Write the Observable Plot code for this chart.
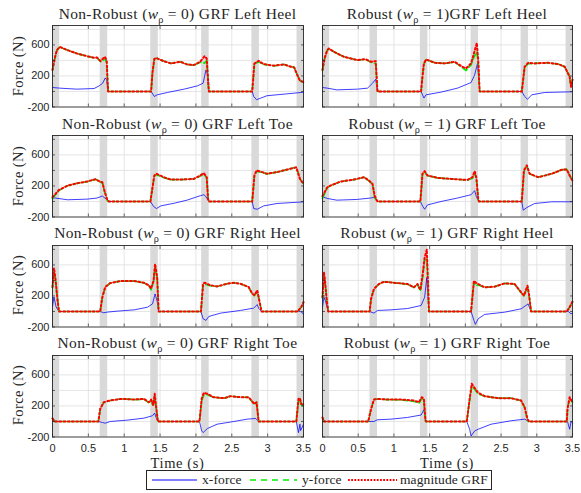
<!DOCTYPE html>
<html>
<head>
<meta charset="utf-8">
<script src="https://cdn.jsdelivr.net/npm/d3@7"></script>
<script src="https://cdn.jsdelivr.net/npm/@observablehq/plot@0.6"></script>
<style>
  body { margin: 0; background: #fff; }
  #chart { position: relative; width: 581px; height: 493px; overflow: hidden; background: #fff;
           font-family: "Liberation Serif", "DejaVu Serif", serif; color: #262626; }
  .title { position: absolute; font-size: 15.5px; letter-spacing: 0.35px; white-space: nowrap; transform: translate(-50%, -50%); line-height: 1; }
  .title sub { font-size: 0.66em; vertical-align: -0.35em; line-height: 0; letter-spacing: 0; }
  .ylab { position: absolute; font-size: 14.5px; letter-spacing: 0.4px; white-space: nowrap; transform: translate(-50%, -50%) rotate(-90deg); line-height: 1; }
  .xlab { position: absolute; font-size: 14.5px; letter-spacing: 0.6px; white-space: nowrap; transform: translate(-50%, -50%); line-height: 1; }
  .panel { position: absolute; }
  #legend { position: absolute; }
</style>
</head>
<body>
<div id="chart"></div>
<script>
// ---------- shared axes / annotations ----------
const xTicks = [0, 0.5, 1, 1.5, 2, 2.5, 3, 3.5];
const yTicks = [-200, 0, 200, 400, 600, 800];
const yTickLabels = [-200, 200, 600];
const bandStart = [0, 0.665, 1.37, 2.08, 2.78, 3.41];
const bandEnd   = [0.1, 0.77, 1.475, 2.185, 2.885, 3.5];
const seriesNames = ["x-force", "y-force", "magnitude GRF"];

// ---------- Non-Robust Left Heel ----------
const nrLeftHeelT   = [0, 0.03, 0.06, 0.1, 0.21, 0.34, 0.48, 0.58, 0.62, 0.67, 0.73, 0.755, 0.775, 1.375, 1.395, 1.42, 1.45, 1.55, 1.65, 1.785, 1.875, 1.97, 2.06, 2.12, 2.15, 2.18, 2.785, 2.815, 2.875, 2.94, 3.09, 3.23, 3.3, 3.37, 3.41, 3.45, 3.5];
const nrLeftHeelFy  = [277, 418, 528, 573, 530, 489, 454, 433, 436, 385, 415, 380, 0, 0, 245, 415, 429, 391, 362, 382, 348, 338, 377, 365, 400, 0, 0, 355, 382, 349, 331, 348, 325, 310, 220, 140, 120];
const nrLeftHeelMag = [277, 420, 530, 575, 532, 490, 455, 434, 438, 391, 447, 404, 0, 0, 250, 420, 430, 391, 362, 383, 349, 340, 383, 455, 426, 0, 0, 360, 395, 353, 332, 349, 325, 310, 220, 140, 120];
const nrLeftHeelXT  = [0, 0.1, 0.34, 0.58, 0.65, 0.70, 0.735, 0.755, 0.775, 1.375, 1.42, 1.46, 1.6, 1.835, 2.02, 2.1, 2.14, 2.16, 2.18, 2.785, 2.805, 2.845, 2.905, 2.99, 3.23, 3.5];
const nrLeftHeelFx  = [51, 43, 30, 38, 72, 106, 174, 149, 0, 0, -64, -43, -13, 30, 72, 106, 277, 225, 0, 0, -64, -106, -85, -55, -34, -10];

// ---------- Robust Left Heel ----------
const rLeftHeelT   = [0, 0.03, 0.066, 0.09, 0.16, 0.3, 0.49, 0.6, 0.675, 0.745, 0.77, 1.38, 1.40, 1.42, 1.45, 1.57, 1.71, 1.85, 1.94, 2.01, 2.08, 2.12, 2.16, 2.18, 2.2, 2.79, 2.83, 2.88, 2.97, 3.16, 3.3, 3.39, 3.46, 3.48, 3.5];
const rLeftHeelFy  = [272, 428, 530, 551, 511, 447, 403, 415, 380, 357, 0, 0, 180, 352, 411, 370, 361, 380, 320, 270, 343, 440, 511, 380, 0, 0, 312, 357, 362, 370, 353, 319, 191, 60, 150];
const rLeftHeelMag = [277, 430, 532, 553, 511, 447, 404, 417, 383, 391, 0, 0, 200, 362, 413, 370, 362, 383, 328, 298, 362, 489, 626, 404, 0, 0, 319, 370, 362, 370, 353, 319, 191, 60, 150];
const rLeftHeelXT  = [0, 0.066, 0.2, 0.49, 0.63, 0.7, 0.745, 0.77, 1.38, 1.42, 1.45, 1.66, 1.89, 2.08, 2.13, 2.17, 2.19, 2.2, 2.79, 2.83, 2.87, 2.93, 3.11, 3.5];
const rLeftHeelFx  = [51, 43, 21, 30, 43, 106, 157, 0, 0, -85, -43, -8, 43, 115, 213, 362, 140, 0, 0, -64, -100, -43, -13, -4];

// ---------- Non-Robust Left Toe ----------
const nrLeftToeT   = [0, 0.04, 0.09, 0.21, 0.34, 0.48, 0.6, 0.65, 0.695, 0.725, 0.765, 0.785, 1.365, 1.42, 1.45, 1.55, 1.65, 1.785, 1.97, 2.06, 2.11, 2.15, 2.17, 2.18, 2.785, 2.815, 2.845, 2.925, 2.99, 3.13, 3.28, 3.4, 3.45, 3.5];
const nrLeftToeFy  = [35, 85, 143, 203, 234, 254, 286, 258, 238, 133, 10, 0, 0, 328, 345, 308, 281, 282, 291, 327, 355, 305, 20, 0, 0, 322, 387, 374, 356, 378, 413, 440, 292, 226];
const nrLeftToeMag = [55, 95, 148, 204, 235, 256, 287, 261, 248, 139, 17, 0, 0, 335, 357, 313, 282, 282, 291, 335, 365, 313, 26, 0, 0, 335, 400, 378, 357, 378, 413, 440, 292, 226];
const nrLeftToeXT  = [0, 0.04, 0.21, 0.48, 0.62, 0.695, 0.735, 0.765, 0.785, 1.365, 1.41, 1.45, 1.51, 1.7, 1.875, 2.06, 2.11, 2.13, 2.17, 2.18, 2.785, 2.805, 2.855, 2.945, 3.13, 3.5];
const nrLeftToeFx  = [45, 44, 22, 30, 44, 70, 40, 15, 0, 0, -65, -91, -57, -22, 17, 74, 87, 74, 17, 0, 0, -91, -100, -57, -26, -5];

// ---------- Robust Left Toe ----------
const rLeftToeT   = [0, 0.066, 0.11, 0.25, 0.44, 0.58, 0.65, 0.7, 0.73, 0.76, 0.77, 1.37, 1.40, 1.43, 1.47, 1.61, 1.8, 2.03, 2.1, 2.13, 2.155, 2.18, 2.19, 2.79, 2.82, 2.86, 2.9, 3.02, 3.21, 3.35, 3.42, 3.46, 3.5];
const rLeftToeFy  = [40, 178, 203, 256, 281, 312, 266, 220, 50, 10, 0, 0, 352, 378, 332, 304, 291, 275, 300, 365, 294, 25, 0, 0, 384, 458, 356, 313, 357, 409, 413, 335, 270];
const rLeftToeMag = [70, 182, 204, 256, 282, 313, 270, 226, 74, 17, 0, 0, 357, 391, 335, 304, 291, 278, 313, 391, 300, 30, 0, 0, 400, 465, 357, 313, 357, 409, 413, 335, 270];
const rLeftToeXT  = [0, 0.066, 0.2, 0.48, 0.67, 0.72, 0.76, 0.77, 1.37, 1.40, 1.43, 1.47, 1.66, 1.89, 2.08, 2.13, 2.155, 2.18, 2.19, 2.79, 2.81, 2.86, 2.97, 3.21, 3.5];
const rLeftToeFx  = [61, 39, 17, 26, 44, 52, 17, 0, 0, -57, -100, -44, 0, 44, 87, 139, 60, 17, 0, 0, -113, -78, -26, -4, -4];

// ---------- Non-Robust Right Heel ----------
const nrRightHeelT   = [0, 0.02, 0.04, 0.07, 0.09, 0.665, 0.695, 0.735, 0.805, 0.95, 1.14, 1.275, 1.345, 1.375, 1.41, 1.43, 1.46, 1.48, 2.07, 2.1, 2.12, 2.205, 2.295, 2.435, 2.53, 2.62, 2.735, 2.785, 2.815, 2.855, 2.875, 2.915, 3.42, 3.47, 3.5];
const nrRightHeelFy  = [308, 528, 420, 150, 0, 0, 182, 315, 366, 392, 391, 369, 332, 280, 388, 570, 422, 0, 0, 344, 352, 330, 322, 357, 370, 357, 314, 227, 203, 257, 178, 0, 0, 59, 113];
const nrRightHeelMag = [315, 560, 430, 150, 0, 0, 183, 315, 366, 392, 392, 370, 336, 294, 400, 613, 442, 0, 0, 357, 370, 336, 323, 357, 370, 357, 315, 230, 208, 272, 183, 0, 0, 60, 120];
const nrRightHeelXT  = [0, 0.02, 0.05, 0.09, 0.665, 0.715, 0.765, 0.9, 1.14, 1.325, 1.395, 1.43, 1.46, 1.48, 2.07, 2.1, 2.14, 2.18, 2.345, 2.62, 2.805, 2.855, 2.875, 2.915, 3.45, 3.48, 3.5];
const nrRightHeelFx  = [64, 187, 60, 0, 0, -17, -8, 4, 21, 55, 98, 226, 130, 0, 0, -94, -115, -64, -21, 13, 43, 89, 40, 0, 0, -10, -40];

// ---------- Robust Right Heel ----------
const rRightHeelT   = [0, 0.02, 0.03, 0.06, 0.08, 0.66, 0.68, 0.72, 0.79, 0.86, 1.05, 1.19, 1.28, 1.33, 1.37, 1.4, 1.43, 1.46, 1.47, 1.49, 2.08, 2.12, 2.14, 2.18, 2.27, 2.41, 2.55, 2.69, 2.78, 2.82, 2.87, 2.89, 2.92, 3.42, 3.46, 3.5];
const rRightHeelFy  = [174, 468, 420, 141, 0, 0, 161, 289, 354, 383, 366, 352, 309, 350, 266, 420, 668, 670, 500, 0, 0, 380, 335, 341, 309, 320, 362, 352, 244, 200, 317, 220, 0, 0, 55, 125];
const rRightHeelMag = [183, 503, 439, 141, 0, 0, 162, 290, 354, 383, 366, 354, 311, 354, 277, 460, 694, 800, 567, 0, 0, 396, 375, 354, 311, 320, 362, 354, 247, 204, 332, 226, 0, 0, 55, 128];
const rRightHeelXT  = [0, 0.02, 0.04, 0.08, 0.66, 0.72, 0.77, 0.96, 1.19, 1.38, 1.43, 1.46, 1.47, 1.49, 2.08, 2.12, 2.14, 2.18, 2.27, 2.55, 2.78, 2.88, 2.9, 2.92, 3.44, 3.48, 3.5];
const rRightHeelFx  = [55, 183, 141, 0, 0, -21, 13, 21, 38, 77, 183, 439, 268, 0, 0, -115, -166, -94, -38, -9, 34, 98, 40, 0, 0, -30, -20];

// ---------- Non-Robust Right Toe ----------
const nrRightToeT   = [0, 0.03, 0.64, 0.665, 0.715, 0.805, 0.95, 1.14, 1.275, 1.345, 1.375, 1.405, 1.425, 1.44, 1.47, 2.05, 2.08, 2.11, 2.16, 2.245, 2.395, 2.48, 2.62, 2.735, 2.785, 2.815, 2.845, 2.875, 3.4, 3.43, 3.45, 3.47, 3.5];
const nrRightToeFy  = [39, 0, 0, 161, 247, 270, 291, 282, 288, 240, 273, 195, 340, 218, 0, 0, 265, 342, 345, 311, 300, 326, 312, 311, 254, 222, 245, 0, 0, 255, 298, 195, 212];
const nrRightToeMag = [39, 0, 0, 161, 248, 270, 291, 283, 291, 248, 283, 213, 357, 226, 0, 0, 291, 370, 357, 313, 300, 326, 313, 313, 257, 226, 248, 0, 0, 292, 300, 226, 215];
const nrRightToeXT  = [0, 0.03, 0.64, 0.695, 0.735, 0.805, 1.04, 1.275, 1.395, 1.425, 1.44, 1.47, 2.05, 2.08, 2.1, 2.16, 2.295, 2.53, 2.715, 2.835, 2.875, 3.4, 3.43, 3.45, 3.46, 3.5];
const nrRightToeFx  = [0, 0, 0, -13, -22, 0, 17, 43, 74, 109, 60, 0, 0, -122, -143, -91, -35, 0, 30, 39, 0, 0, -144, -35, -118, -35];

// ---------- Robust Right Toe ----------
const rRightToeT   = [0, 0.02, 0.64, 0.68, 0.72, 0.77, 0.91, 1.1, 1.28, 1.35, 1.39, 1.42, 1.44, 1.45, 2.02, 2.06, 2.09, 2.12, 2.18, 2.27, 2.46, 2.64, 2.78, 2.83, 2.87, 2.89, 3.42, 3.43, 3.46, 3.5];
const rRightToeFy  = [52, 0, 0, 161, 283, 290, 281, 279, 260, 236, 295, 250, 0, 0, 0, 273, 450, 425, 355, 324, 300, 300, 268, 180, 10, 0, 0, 161, 297, 247];
const rRightToeMag = [52, 0, 0, 161, 283, 291, 283, 283, 270, 248, 313, 291, 30, 0, 0, 291, 487, 444, 370, 326, 300, 300, 270, 183, 30, 0, 0, 161, 313, 248];
const rRightToeXT  = [0, 0.02, 0.64, 0.72, 0.77, 0.96, 1.19, 1.38, 1.42, 1.44, 1.45, 2.02, 2.06, 2.08, 2.13, 2.18, 2.36, 2.64, 2.83, 2.89, 3.42, 3.43, 3.46, 3.48, 3.5];
const rRightToeFx  = [0, 0, 0, 0, 22, 30, 52, 83, 152, 30, 0, 0, -100, -187, -122, -100, -35, 9, 30, 0, 0, 0, -100, 0, -20];

// ---------- panel list ----------
const panels = [
  {pre: "Non-Robust (", suf: " = 0) GRF Left Heel",  t: nrLeftHeelT,  fy: nrLeftHeelFy,  fm: nrLeftHeelMag,  tx: nrLeftHeelXT,  fx: nrLeftHeelFx},
  {pre: "Robust (",     suf: " = 1)GRF Left Heel",   t: rLeftHeelT,   fy: rLeftHeelFy,   fm: rLeftHeelMag,   tx: rLeftHeelXT,   fx: rLeftHeelFx},
  {pre: "Non-Robust (", suf: " = 0) GRF Left Toe",   t: nrLeftToeT,   fy: nrLeftToeFy,   fm: nrLeftToeMag,   tx: nrLeftToeXT,   fx: nrLeftToeFx},
  {pre: "Robust (",     suf: " = 1) GRF Left Toe",   t: rLeftToeT,    fy: rLeftToeFy,    fm: rLeftToeMag,    tx: rLeftToeXT,    fx: rLeftToeFx},
  {pre: "Non-Robust (", suf: " = 0) GRF Right Heel", t: nrRightHeelT, fy: nrRightHeelFy, fm: nrRightHeelMag, tx: nrRightHeelXT, fx: nrRightHeelFx},
  {pre: "Robust (",     suf: " = 1) GRF Right Heel", t: rRightHeelT,  fy: rRightHeelFy,  fm: rRightHeelMag,  tx: rRightHeelXT,  fx: rRightHeelFx},
  {pre: "Non-Robust (", suf: " = 0) GRF Right Toe",  t: nrRightToeT,  fy: nrRightToeFy,  fm: nrRightToeMag,  tx: nrRightToeXT,  fx: nrRightToeFx},
  {pre: "Robust (",     suf: " = 1) GRF Right Toe",  t: rRightToeT,   fy: rRightToeFy,   fm: rRightToeMag,   tx: rRightToeXT,   fx: rRightToeFx}
];

// ---------- layout ----------
const frameTops = [25, 135, 244.5, 354.5];
const frameH = 81.5;
const colLeft = [0, 300];
const colWidth = [310, 281];
const colMarginLeft = [52, 22];
const colMarginRight = [7, 9];
const colCenter = [177.5, 447];

const COLORS = {x: "#0000ff", y: "#00ee00", m: "#ff0000"};
const chart = document.getElementById("chart");
const bands = bandStart.map((s, i) => ({s, e: bandEnd[i]}));

panels.forEach((p, idx) => {
  const row = Math.floor(idx / 2), col = idx % 2;
  const bottom = row === 3, left = col === 0;
  const mt = 4, mb = bottom ? 22 : 4;
  const xData = p.tx.map((t, i) => ({t, v: p.fx[i]}));
  const yData = p.t.map((t, i) => ({t, v: p.fy[i]}));
  const mData = p.t.map((t, i) => ({t, v: p.fm[i]}));
  const tickOpts = {tickSize: -3, tickFormat: () => "", label: null, stroke: "#262626", strokeWidth: 0.7};
  const marks = [
    Plot.gridX(xTicks.slice(1, -1), {stroke: "#dedede", strokeOpacity: 1, strokeWidth: 0.8}),
    Plot.gridY(yTicks.slice(1), {stroke: "#dedede", strokeOpacity: 1, strokeWidth: 0.8}),
    Plot.barX(bands, {x1: "s", x2: "e", fill: "#d9d9d9"}),
    Plot.line(xData, {x: "t", y: "v", stroke: COLORS.x, strokeWidth: 0.75}),
    Plot.line(yData, {x: "t", y: "v", stroke: COLORS.y, strokeWidth: 1.7, strokeDasharray: "6,3"}),
    Plot.line(mData, {x: "t", y: "v", stroke: COLORS.m, strokeWidth: 2, strokeDasharray: "1.8,2.4"}),
    Plot.axisX(xTicks, {anchor: "bottom", ...tickOpts}),
    Plot.axisX(xTicks, {anchor: "top", ...tickOpts}),
    Plot.axisY(yTicks, {anchor: "left", ...tickOpts}),
    Plot.axisY(yTicks, {anchor: "right", ...tickOpts}),
    Plot.frame({stroke: "#262626", strokeWidth: 0.9})
  ];
  if (left) marks.push(Plot.axisY(yTickLabels, {anchor: "left", tickSize: 0, tickPadding: 3, tickFormat: d => String(d), label: null, fill: "#262626"}));
  if (bottom) marks.push(Plot.axisX(xTicks, {anchor: "bottom", tickSize: 0, tickPadding: 7, tickFormat: d => String(d), label: null, fill: "#262626"}));

  const svg = Plot.plot({
    width: colWidth[col],
    height: frameH + mt + mb,
    marginTop: mt, marginBottom: mb,
    marginLeft: colMarginLeft[col], marginRight: colMarginRight[col],
    x: {domain: [0, 3.5], label: null},
    y: {domain: [-200, 850], label: null},
    style: {fontFamily: "'Liberation Sans', Arial, sans-serif", fontSize: "11px", color: "#262626", background: "transparent", overflow: "visible"},
    marks
  });
  const wrap = document.createElement("div");
  wrap.className = "panel";
  wrap.style.left = colLeft[col] + "px";
  wrap.style.top = (frameTops[row] - mt) + "px";
  wrap.appendChild(svg);
  chart.appendChild(wrap);

  const title = document.createElement("div");
  title.className = "title";
  title.style.left = colCenter[col] + "px";
  title.style.top = (frameTops[row] - 11.5) + "px";
  title.innerHTML = `${p.pre}<i>w</i><sub>ρ</sub>${p.suf}`;
  chart.appendChild(title);

  if (left) {
    const yl = document.createElement("div");
    yl.className = "ylab";
    yl.style.left = "18px";
    yl.style.top = (frameTops[row] + frameH / 2) + "px";
    yl.textContent = "Force (N)";
    chart.appendChild(yl);
  }
  if (bottom) {
    const xl = document.createElement("div");
    xl.className = "xlab";
    xl.style.left = colCenter[col] + "px";
    xl.style.top = "462.5px";
    xl.textContent = "Time (s)";
    chart.appendChild(xl);
  }
});

// ---------- legend ----------
const ns = "http://www.w3.org/2000/svg";
const lg = document.createElementNS(ns, "svg");
lg.setAttribute("id", "legend");
lg.setAttribute("width", 346);
lg.setAttribute("height", 20);
lg.style.left = "146px";
lg.style.top = "470px";
const box = document.createElementNS(ns, "rect");
box.setAttribute("x", 0.5); box.setAttribute("y", 0.5);
box.setAttribute("width", 345); box.setAttribute("height", 19);
box.setAttribute("fill", "#fff"); box.setAttribute("stroke", "#262626"); box.setAttribute("stroke-width", 1);
lg.appendChild(box);
const entries = [
  {x1: 6, x2: 51, tx: 56, color: COLORS.x, w: 1, dash: null, label: seriesNames[0]},
  {x1: 104, x2: 151, tx: 156, color: COLORS.y, w: 1.5, dash: "6,5", label: seriesNames[1]},
  {x1: 202, x2: 251, tx: 254, color: COLORS.m, w: 2, dash: "1.8,1.4", label: seriesNames[2]}
];
entries.forEach(e => {
  const ln = document.createElementNS(ns, "line");
  ln.setAttribute("x1", e.x1); ln.setAttribute("x2", e.x2);
  ln.setAttribute("y1", 10); ln.setAttribute("y2", 10);
  ln.setAttribute("stroke", e.color); ln.setAttribute("stroke-width", e.w);
  if (e.dash) ln.setAttribute("stroke-dasharray", e.dash);
  lg.appendChild(ln);
  const tx = document.createElementNS(ns, "text");
  tx.setAttribute("x", e.tx); tx.setAttribute("y", 14);
  tx.setAttribute("font-family", "'Liberation Serif', 'DejaVu Serif', serif");
  tx.setAttribute("font-size", "13.5px");
  tx.setAttribute("letter-spacing", "0.1px");
  tx.setAttribute("fill", "#262626");
  tx.textContent = e.label;
  lg.appendChild(tx);
});
chart.appendChild(lg);
</script>
</body>
</html>
